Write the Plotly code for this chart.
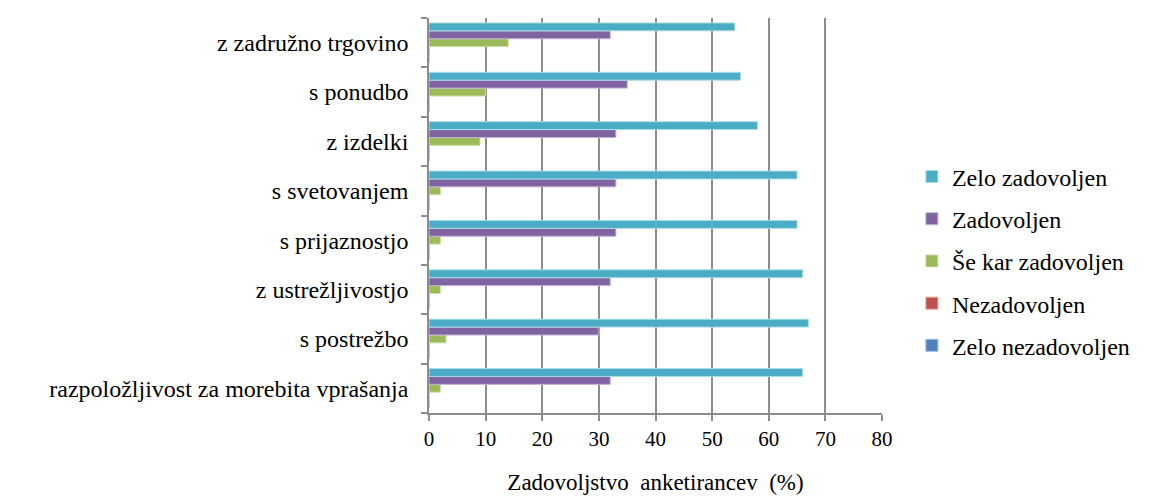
import plotly.graph_objects as go

categories = [
    "z zadružno trgovino",
    "s ponudbo",
    "z izdelki",
    "s svetovanjem",
    "s prijaznostjo",
    "z ustrežljivostjo",
    "s postrežbo",
    "razpoložljivost za morebita vprašanja",
]
zelo_zadovoljen = [54, 55, 58, 65, 65, 66, 67, 66]
zadovoljen = [32, 35, 33, 33, 33, 32, 30, 32]
se_kar = [14, 10, 9, 2, 2, 2, 3, 2]
nezadovoljen = [0, 0, 0, 0, 0, 0, 0, 0]
zelo_nezadovoljen = [0, 0, 0, 0, 0, 0, 0, 0]
x_ticks = [0, 10, 20, 30, 40, 50, 60, 70, 80]

series = [
    ("Zelo nezadovoljen", zelo_nezadovoljen, "#4F81BD", "#9DB9DE", 5),
    ("Nezadovoljen", nezadovoljen, "#C0504D", "#E3A3A1", 4),
    ("Še kar zadovoljen", se_kar, "#9BBB59", "#CDE0A8", 3),
    ("Zadovoljen", zadovoljen, "#8064A2", "#C0B0D6", 2),
    ("Zelo zadovoljen", zelo_zadovoljen, "#4BACC6", "#A9DCEA", 1),
]

fig = go.Figure()
for name, vals, col, edge, rank in series:
    fig.add_trace(go.Bar(
        y=categories, x=vals, name=name, orientation="h",
        marker=dict(color=col, line=dict(color=edge, width=1)),
        legendgroup=name, legendrank=rank,
    ))

serif = "Liberation Serif"
fig.update_layout(
    width=1150, height=503,
    margin=dict(l=429, r=268, t=18, b=82),
    paper_bgcolor="white", plot_bgcolor="white",
    barmode="group", bargap=0.2, bargroupgap=0,
    font=dict(family=serif, size=20, color="#000000"),
    legend=dict(
        x=1.066, y=0.385, xanchor="left", yanchor="middle",
        font=dict(family=serif, size=24, color="#000000"),
        tracegroupgap=8, itemwidth=30,
    ),
    xaxis=dict(
        range=[0, 80], tickvals=x_ticks, showgrid=True,
        gridcolor="#8c8c8c", gridwidth=1.5,
        showline=True, linecolor="#8c8c8c", linewidth=1.5,
        ticks="outside", ticklen=6, tickcolor="#8c8c8c", tickwidth=1.5,
        tickfont=dict(family=serif, size=21, color="#000000"),
        title=dict(text="Zadovoljstvo  anketirancev  (%)",
                   font=dict(family=serif, size=23, color="#000000"), standoff=24),
        zeroline=False,
    ),
    yaxis=dict(
        categoryorder="array", categoryarray=categories[::-1],
        showline=True, linecolor="#8c8c8c", linewidth=1.5,
        ticks="outside", ticklen=6, tickcolor="#8c8c8c", tickwidth=1.5,
        tickson="boundaries", ticklabelstandoff=14,
        tickfont=dict(family=serif, size=24, color="#000000"),
        showgrid=False,
    ),
)

fig.write_html("out.html")
